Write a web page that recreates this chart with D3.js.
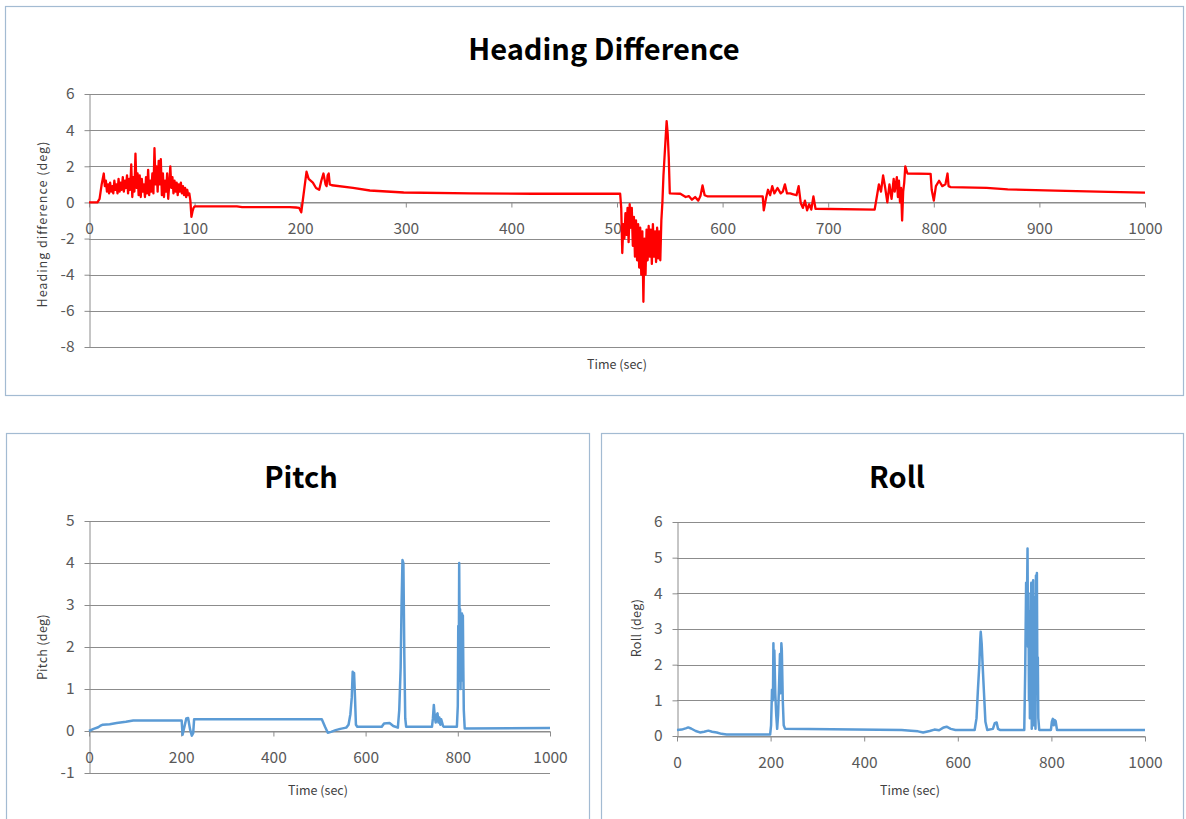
<!DOCTYPE html>
<html>
<head>
<meta charset="utf-8">
<script src="https://cdn.jsdelivr.net/npm/d3@7"></script>
<style>
  html, body { margin: 0; padding: 0; background: #ffffff; }
  svg { display: block; }
  text { font-family: "Noto Sans CJK KR", "Noto Sans", sans-serif; }
</style>
</head>
<body>
<svg id="chart" width="1186" height="819"></svg>
<script>
// ---- data: [time (sec), degrees] ----
const headingPoints = [
  [0,0],[8,0],[10,0.2],[11,0.6],[12,1.0],[13,1.3],[14,1.6],[15,0.9],[16,1.2],[17,0.6],[18,1.0],
  [19,0.5],[20,1.1],[21,0.6],[22,0.9],[23,0.5],[24,1.2],[25,0.7],[26,1.0],[27,0.5],[28,1.3],
  [29,0.6],[30,1.1],[31,0.7],[32,1.4],[33,0.6],[34,1.2],[35,0.8],[36,1.5],[37,0.5],[38,1.3],
  [39,0.7],[40,2.1],[41,0.3],[42,1.4],[43,0.6],[44,2.7],[45,0.8],[46,1.6],[47,0.4],[48,1.5],
  [49,0.3],[50,1.3],[51,0.6],[52,1.0],[53,0.3],[54,1.4],[55,0.5],[56,1.8],[57,0.4],[58,1.2],
  [59,0.6],[60,1.6],[61,0.5],[62,3.0],[63,1.0],[64,2.0],[65,0.6],[66,2.3],[67,1.0],[68,2.4],
  [69,0.4],[70,1.6],[71,0.3],[72,1.2],[73,0.6],[74,1.6],[75,0.2],[76,1.0],[77,2.0],[78,0.8],
  [79,1.4],[80,0.5],[81,1.2],[82,0.6],[83,1.1],[84,0.4],[85,1.0],[86,0.6],[87,1.1],[88,0.5],
  [89,0.9],[90,0.4],[91,0.8],[92,0.3],[93,0.7],[94,0.4],[95,0.5],[96,0.1],[97,-0.8],[98,-0.5],
  [99,-0.3],[100,-0.22],[140,-0.22],[145,-0.26],[190,-0.26],[196,-0.28],[199,-0.3],[201,-0.55],
  [202,-0.1],[204,0.8],[206,1.7],[208,1.3],[212,1.1],[215,0.8],[218,0.7],[220,1.2],[222,1.6],
  [224,1.0],[225,0.9],[226,1.5],[227,1.6],[228,1.0],[230,0.95],[250,0.8],[266,0.66],[298,0.55],
  [361,0.5],[420,0.48],[503,0.48],[504,-0.3],[505,-2.8],[506,-1.2],[507,-2.0],[508,-0.6],
  [509,-1.8],[510,-0.3],[511,-2.2],[512,-0.1],[513,-1.4],[514,-0.3],[515,-2.4],[516,-0.8],
  [517,-3.0],[518,-1.0],[519,-3.2],[520,-1.2],[521,-3.6],[522,-1.4],[523,-4.0],[524,-1.6],
  [525,-5.5],[526,-2.0],[527,-4.0],[528,-1.5],[529,-3.2],[530,-1.3],[531,-3.0],[532,-1.5],
  [533,-3.4],[534,-1.2],[535,-3.0],[536,-1.6],[537,-3.3],[538,-1.4],[539,-3.1],[540,-1.6],
  [541,-3.2],[542,-1.0],[543,0.0],[544,1.5],[545,2.5],[546,3.5],[547,4.5],[548,3.8],[549,2.5],
  [550,0.5],[560,0.48],[565,0.3],[568,0.35],[571,0.15],[574,0.3],[577,0.1],[579,0.35],[581,0.94],
  [583,0.4],[586,0.33],[638,0.33],[639,-0.44],[641,0.2],[643,0.7],[645,0.4],[647,0.9],[649,0.5],
  [652,0.8],[655,0.5],[657,0.6],[659,1.0],[661,0.5],[664,0.5],[667,0.45],[670,0.4],[672,0.9],
  [674,-0.03],[676,-0.3],[678,0.1],[680,-0.44],[682,-0.1],[684,-0.4],[686,0.33],[688,-0.35],
  [744,-0.4],[746,0.3],[748,1.0],[750,0.6],[752,1.5],[754,0.8],[756,0.0],[758,1.0],[760,0.2],
  [762,1.3],[763,0.6],[765,1.4],[766,0.3],[767,1.2],[768,0.0],[769,0.8],[770,-1.0],[771,0.6],
  [772,1.1],[773,2.0],[775,1.6],[797,1.58],[798,0.7],[800,0.1],[802,0.9],[805,1.2],[808,0.9],
  [811,1.0],[813,1.6],[814,0.9],[816,0.85],[850,0.8],[870,0.72],[915,0.65],[965,0.58],[1000,0.54]
];

const pitchPoints = [
  [0,0],[10,0.05],[20,0.09],[24,0.12],[30,0.15],[45,0.16],[60,0.19],[80,0.22],[96,0.25],
  [201,0.25],[203,-0.09],[207,0.1],[211,0.3],[215,0.31],[219,0.05],[223,-0.11],[226,-0.05],
  [228,0.28],[230,0.28],[505,0.28],[512,0.1],[518,-0.04],[525,-0.02],[535,0.02],[545,0.05],
  [558,0.08],[563,0.15],[567,0.4],[570,0.8],[572,1.41],[574,1.3],[575,1.38],[577,0.8],[579,0.15],
  [582,0.1],[635,0.1],[640,0.18],[652,0.19],[660,0.12],[670,0.08],[673,0.5],[676,1.5],[678,3.0],
  [680,4.07],[682,4.0],[684,1.8],[686,0.3],[688,0.1],[744,0.1],[746,0.3],[748,0.62],[750,0.35],
  [752,0.2],[754,0.38],[756,0.42],[758,0.2],[760,0.32],[762,0.15],[764,0.28],[766,0.2],[768,0.12],
  [770,0.1],[798,0.1],[800,0.6],[801,2.5],[802,1.2],[803,4.0],[804,2.2],[805,2.9],[806,1.0],
  [807,2.8],[808,1.5],[809,2.8],[810,1.2],[811,2.75],[812,1.5],[813,0.5],[815,0.06],[1000,0.07]
];

const rollPoints = [
  [0,0.17],[10,0.18],[20,0.22],[24,0.24],[30,0.21],[40,0.14],[49,0.1],[58,0.12],[67,0.15],
  [75,0.12],[85,0.1],[95,0.06],[106,0.04],[150,0.04],[199,0.04],[201,0.3],[203,1.3],[205,1.0],
  [206,2.6],[207,1.6],[208,2.4],[210,1.2],[212,0.6],[214,0.2],[216,0.6],[218,1.4],[220,2.3],
  [221,1.2],[223,2.6],[224,2.4],[226,1.0],[228,0.3],[231,0.2],[480,0.17],[500,0.15],[515,0.13],
  [526,0.1],[540,0.14],[550,0.18],[560,0.16],[570,0.24],[576,0.26],[585,0.2],[595,0.17],
  [636,0.17],[640,0.5],[643,1.3],[646,2.0],[648,2.7],[649,2.92],[651,2.6],[653,2.0],[656,1.2],
  [659,0.4],[663,0.17],[675,0.2],[679,0.36],[683,0.38],[686,0.2],[690,0.17],[742,0.17],
  [744,1.8],[746,4.3],[747,2.8],[749,5.26],[750,2.5],[751,4.0],[752,1.0],[753,3.2],[754,0.5],
  [755,3.5],[756,1.3],[757,4.3],[758,0.2],[759,3.6],[760,2.0],[761,4.37],[762,0.3],[763,3.9],
  [764,1.0],[765,3.4],[766,0.2],[767,4.5],[768,2.2],[769,4.57],[770,1.5],[771,2.2],[772,0.5],
  [774,0.17],[799,0.17],[801,0.4],[803,0.48],[805,0.3],[807,0.45],[809,0.42],[812,0.17],
  [1000,0.17]
];

// ---- axis ticks ----
const headingXTicks = [0,100,200,300,400,500,600,700,800,900,1000];
const headingYTicks = [6,4,2,0,-2,-4,-6,-8];
const pitchXTicks = [0,200,400,600,800,1000];
const pitchYTicks = [5,4,3,2,1,0,-1];
const rollXTicks = [0,200,400,600,800,1000];
const rollYTicks = [6,5,4,3,2,1,0];

const svg = d3.select("#chart");
const GRID = "#8c8c8c";
const BORDER = "#a3bbd2";
const TICK_TEXT = "#595959";
const plainNumber = d => String(d);   // hyphen-minus, as in spreadsheet labels

function drawPanel(cfg) {
  const g = svg.append("g");

  // chart frame
  g.append("rect")
    .attr("x", cfg.box[0] + 0.5).attr("y", cfg.box[1] + 0.5)
    .attr("width", cfg.box[2]).attr("height", cfg.box[3])
    .attr("fill", "#fff").attr("stroke", BORDER).attr("stroke-width", 1.2);

  const x = d3.scaleLinear().domain([0, 1000]).range(cfg.xRange);
  const y = d3.scaleLinear().domain(cfg.yDomain).range(cfg.yRange);

  // horizontal gridlines
  g.append("g").selectAll("line").data(cfg.yTicks).join("line")
    .attr("x1", cfg.xRange[0]).attr("x2", cfg.xRange[1])
    .attr("y1", d => Math.round(y(d)) + 0.5).attr("y2", d => Math.round(y(d)) + 0.5)
    .attr("stroke", GRID).attr("stroke-width", 1);

  // y axis
  const yAxis = g.append("g")
    .attr("transform", `translate(${cfg.xRange[0] + 0.5},0)`)
    .call(d3.axisLeft(y).tickValues(cfg.yTicks).tickSize(5).tickSizeOuter(0).tickPadding(10)
      .tickFormat(plainNumber));
  // x axis crossing at the axis value
  const xAxis = g.append("g")
    .attr("transform", `translate(0,${Math.round(y(cfg.xCross)) + 0.5})`)
    .call(d3.axisBottom(x).tickValues(cfg.xTicks).tickSize(5).tickSizeOuter(0).tickPadding(15)
      .tickFormat(plainNumber));

  [yAxis, xAxis].forEach(a => {
    a.select(".domain").attr("stroke", GRID).attr("stroke-width", 1);
    a.selectAll(".tick line").attr("stroke", GRID);
    a.selectAll(".tick text").attr("fill", TICK_TEXT)
      .style("font-size", "15.5px").style("font-family", '"Noto Sans CJK KR", sans-serif');
  });

  // series line
  const line = d3.line().x(d => x(d[0])).y(d => y(d[1]));
  g.append("path").datum(cfg.points)
    .attr("d", line).attr("fill", "none")
    .attr("stroke", cfg.color).attr("stroke-width", cfg.lineWidth)
    .attr("stroke-linejoin", "round");

  // title
  g.append("text").attr("x", cfg.title[1]).attr("y", cfg.title[2])
    .attr("text-anchor", "middle").attr("dominant-baseline", "central")
    .attr("font-size", 29).attr("font-weight", "bold").attr("fill", "#000")
    .text(cfg.title[0]);

  // axis titles
  g.append("text").attr("x", cfg.xTitle[0]).attr("y", cfg.xTitle[1])
    .attr("text-anchor", "middle").attr("dominant-baseline", "central")
    .attr("font-size", 12.5).attr("fill", "#404040").text("Time (sec)");
  g.append("text")
    .attr("transform", `translate(${cfg.yTitle[1]},${cfg.yTitle[2]}) rotate(-90)`)
    .attr("text-anchor", "middle").attr("dominant-baseline", "central")
    .attr("font-size", 12.5).attr("letter-spacing", cfg.yTitle[3])
    .attr("fill", "#404040").text(cfg.yTitle[0]);
}

drawPanel({
  box: [5, 6, 1178, 389],
  xRange: [89, 1145], yDomain: [-8, 6], yRange: [347, 94],
  xTicks: headingXTicks, yTicks: headingYTicks, xCross: 0,
  points: headingPoints, color: "#ff0000", lineWidth: 2.3,
  title: ["Heading Difference", 604, 47],
  xTitle: [617, 363], yTitle: ["Heading difference (deg)", 41, 224, 1.0]
});

drawPanel({
  box: [6, 433, 583, 420],
  xRange: [89, 550], yDomain: [-1, 5], yRange: [773, 521],
  xTicks: pitchXTicks, yTicks: pitchYTicks, xCross: 0,
  points: pitchPoints, color: "#5b9bd5", lineWidth: 2.5,
  title: ["Pitch", 301, 475],
  xTitle: [318, 789], yTitle: ["Pitch (deg)", 41, 647, 0.3]
});

drawPanel({
  box: [601, 433, 582, 420],
  xRange: [677, 1145], yDomain: [0, 6], yRange: [736, 522],
  xTicks: rollXTicks, yTicks: rollYTicks, xCross: 0,
  points: rollPoints, color: "#5b9bd5", lineWidth: 2.5,
  title: ["Roll", 897, 475],
  xTitle: [910, 789], yTitle: ["Roll (deg)", 635, 628, 0.3]
});
</script>
</body>
</html>
